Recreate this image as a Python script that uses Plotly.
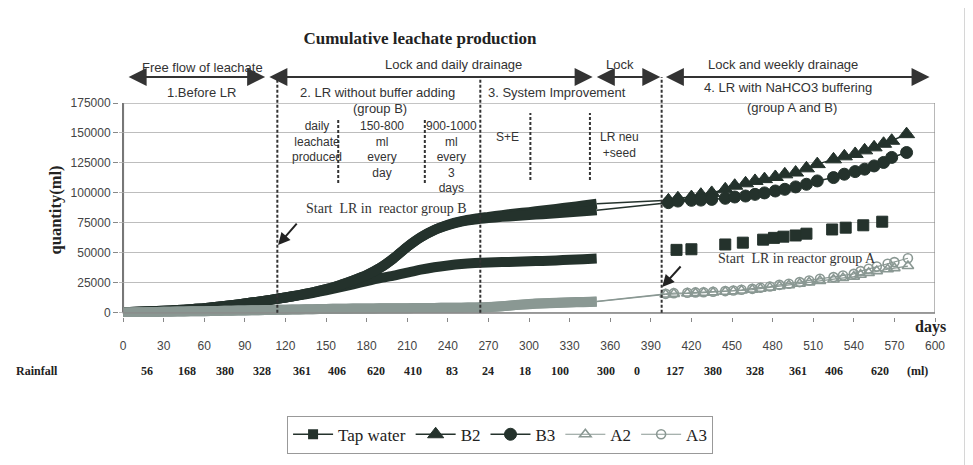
import plotly.graph_objects as go

# ---------------- data (values in ml) ----------------
early_days = [0, 10, 20, 30, 40, 50, 60, 70, 80, 90, 100, 110, 120, 130, 140, 150, 160, 170,
              180, 190, 200, 210, 220, 230, 240, 250, 260, 270, 280, 290, 300, 310, 320, 330, 340, 350]

tap_early = [500, 800, 1200, 1700, 2300, 3000, 3800, 5000, 6300, 7800, 9300, 11000, 12800, 14500,
             16500, 18800, 21200, 23800, 26500, 29000, 31000, 33500, 36000, 38000, 39500, 40700,
             41500, 42000, 42300, 42600, 43000, 43300, 43700, 44200, 44700, 45200]
b2_early = [500, 800, 1200, 1700, 2300, 3000, 3800, 5000, 6300, 7800, 9300, 11000, 12800, 14800,
            17000, 19800, 23000, 27000, 31500, 37500, 45500, 55000, 63000, 69000, 73500, 76500,
            78500, 80000, 81500, 82800, 84000, 85300, 86700, 88000, 89500, 91000]
b3_early = [500, 800, 1200, 1700, 2300, 3000, 3800, 5000, 6300, 7800, 9300, 11000, 12800, 14800,
            17000, 19800, 23000, 27000, 31500, 37500, 45500, 55000, 63000, 69000, 73000, 76000,
            77800, 79000, 80000, 80800, 81600, 82300, 83000, 83800, 84600, 85500]
a2_early = [200, 400, 600, 800, 1000, 1200, 1400, 1600, 1800, 2000, 2200, 2400, 2600, 2800, 3000,
            3200, 3400, 3500, 3600, 3700, 3800, 3900, 4000, 4100, 4200, 4300, 4400, 4700, 5400,
            6400, 7200, 7800, 8200, 8600, 8900, 9300]
a3_early = [200, 400, 600, 800, 1000, 1200, 1400, 1600, 1800, 2000, 2200, 2400, 2600, 2800, 3000,
            3200, 3400, 3500, 3600, 3700, 3800, 3900, 4000, 4100, 4200, 4300, 4400, 4800, 5500,
            6500, 7400, 8000, 8400, 8800, 9100, 9500]

tap_late_days = [409, 420, 445, 458, 473, 481, 488, 497, 505, 524, 534, 547, 561]
tap_late = [52500, 53000, 57000, 58500, 61000, 62500, 63500, 64500, 66000, 69500, 71000, 73000, 76000]

b_late_days = [403, 410, 420, 427, 435, 445, 452, 460, 467, 474, 482, 489, 497, 505, 513, 525,
               533, 541, 548, 555, 562, 568, 579]
b2_late = [93800, 95500, 96500, 98500, 100000, 103000, 106000, 108000, 110000, 111500, 113300,
           115500, 117000, 120500, 124000, 128000, 130500, 132500, 135500, 138000, 141000, 143500, 149000]
b3_late = [91900, 93200, 93800, 94000, 94600, 95500, 96600, 97400, 98800, 100000, 101600, 103000,
           105000, 107200, 110000, 112800, 115600, 117800, 119800, 122500, 125400, 129600, 133700]

a_late_days = [401, 407, 417, 423, 429, 436, 445, 451, 457, 465, 471, 478, 485, 492, 500, 507, 515,
               525, 532, 540, 545, 551, 557, 565, 570, 580]
a2_late = [15300, 15800, 16100, 16400, 16700, 17000, 17500, 18000, 18600, 19300, 20100, 21000, 22200,
           23000, 24200, 25400, 26600, 27800, 29000, 30200, 31800, 33300, 34800, 36300, 37300, 39000]
a3_late = [15800, 16400, 16700, 17000, 17200, 17500, 18100, 18600, 19200, 20000, 20900, 21900, 23300,
           24200, 25600, 27000, 28400, 29800, 31100, 32500, 34800, 36700, 38600, 40900, 42300, 45500]

rain_days = [18, 47, 75, 103, 132, 158, 187, 214, 243, 270, 297, 323, 357, 380, 408, 436, 467, 499, 525, 559]
rain_ml = ["56", "168", "380", "328", "361", "406", "620", "410", "83", "24",
           "18", "100", "300", "0", "127", "380", "328", "361", "406", "620"]

x_ticks = list(range(0, 601, 30))
y_ticks = list(range(0, 175001, 25000))

# phase boundaries (days)
phase_lines = [114, 264, 398]
sub_lines_b = [159, 223]
sub_lines_c = [301, 345]

# ---------------- styling ----------------
DARK = "#24322c"
GRAY = "#8a9893"
SERIF = "Liberation Serif, Times New Roman, serif"
SANS = "Liberation Sans, Arial, sans-serif"

fig = go.Figure()

# Tap water
fig.add_trace(go.Scatter(x=[None], y=[None], name="Tap water", mode="lines+markers",
                         line=dict(color=DARK, width=1.5),
                         marker=dict(symbol="square", size=10, color=DARK, opacity=1)))
fig.add_trace(go.Scatter(x=early_days, y=tap_early, mode="lines", showlegend=False,
                         line=dict(color=DARK, width=10, shape="spline", smoothing=0.6)))
fig.add_trace(go.Scatter(x=tap_late_days, y=tap_late, mode="markers", showlegend=False,
                         marker=dict(symbol="square", size=11, color=DARK, opacity=1,
                                     line=dict(width=1, color=DARK))))

# B2 / B3
for name, early, late, sym, msz in [("B2", b2_early, b2_late, "triangle-up", 14),
                                    ("B3", b3_early, b3_late, "circle", 12)]:
    fig.add_trace(go.Scatter(x=early_days, y=early, mode="lines", showlegend=False,
                             line=dict(color=DARK, width=10, shape="spline", smoothing=0.6)))
    fig.add_trace(go.Scatter(x=[early_days[-1], b_late_days[0]], y=[early[-1], late[0]],
                             mode="lines", showlegend=False, line=dict(color=DARK, width=1.5)))
    fig.add_trace(go.Scatter(x=b_late_days, y=late, name=name, mode="lines+markers",
                             line=dict(color=DARK, width=1.5),
                             marker=dict(symbol=sym, size=msz, color=DARK, opacity=1,
                                         line=dict(width=1, color=DARK))))

# A2 / A3
for name, early, late, sym, msz in [("A2", a2_early, a2_late, "triangle-up-open", 10),
                                    ("A3", a3_early, a3_late, "circle-open", 9)]:
    fig.add_trace(go.Scatter(x=early_days, y=early, mode="lines", showlegend=False,
                             line=dict(color=GRAY, width=10, shape="spline", smoothing=0.6)))
    fig.add_trace(go.Scatter(x=[early_days[-1], a_late_days[0]], y=[early[-1], late[0]],
                             mode="lines", showlegend=False, line=dict(color=GRAY, width=1.2)))
    fig.add_trace(go.Scatter(x=a_late_days, y=late, name=name, mode="lines+markers",
                             line=dict(color=GRAY, width=1.2),
                             marker=dict(symbol=sym, size=msz, color=GRAY, opacity=1,
                                         line=dict(width=1.6, color=GRAY))))

shapes = []
# plot box and axes
shapes.append(dict(type="rect", xref="x", yref="y", x0=0, x1=600, y0=0, y1=175000,
                   line=dict(color="#8a8a8a", width=1.2), layer="above"))
shapes.append(dict(type="line", xref="x", yref="y", x0=0, x1=0, y0=0, y1=175000,
                   line=dict(color="#555", width=2), layer="below"))
shapes.append(dict(type="line", xref="x", yref="y", x0=0, x1=600, y0=0, y1=0,
                   line=dict(color="#666", width=1.5), layer="below"))
# outer frame
shapes.append(dict(type="rect", xref="paper", yref="paper", x0=-0.1397, x1=1.0368, y0=-0.72, y1=1.4486,
                   line=dict(color="#aaaaaa", width=1)))
# dashed phase lines
for d in phase_lines:
    shapes.append(dict(type="line", xref="x", yref="paper", x0=d, x1=d, y0=0.0196, y1=1.1215,
                       line=dict(color="#333", width=2, dash="3px,2px")))
for d in sub_lines_b:
    shapes.append(dict(type="line", xref="x", yref="paper", x0=d, x1=d, y0=0.626, y1=0.93,
                       line=dict(color="#333", width=2, dash="3px,2px")))
for d in sub_lines_c:
    shapes.append(dict(type="line", xref="x", yref="paper", x0=d, x1=d, y0=0.64, y1=0.953,
                       line=dict(color="#333", width=2, dash="3px,2px")))

ann = []
# top double arrows
for a, b in [(3, 105), (107, 347), (349, 397), (400, 596)]:
    ann.append(dict(x=b, y=1.1215, xref="x", yref="paper", ax=a, ay=0, axref="x", ayref="pixel",
                    text="", showarrow=True, arrowside="end+start", arrowhead=2, arrowsize=1.8,
                    arrowwidth=2, arrowcolor="#333", standoff=0, startstandoff=0))


def label(text, x, y, size=13, font=SANS, color="#333", xref="x", yref="paper",
          yanchor="middle", bold=False, xanchor="center"):
    if bold:
        text = "<b>" + text + "</b>"
    ann.append(dict(x=x, y=y, xref=xref, yref=yref, text=text, showarrow=False,
                    xanchor=xanchor, yanchor=yanchor, font=dict(family=font, size=size, color=color)))


label("Free flow of leachate", 59, 1.1636)
label("Lock and daily drainage", 244, 1.1776)
label("Lock", 367, 1.1776)
label("Lock and weekly drainage", 488, 1.1776)
label("1.Before LR", 58, 1.0514)
label("2. LR without buffer adding", 188, 1.0514)
label("(group B)", 190, 0.9766)
label("3. System Improvement", 321, 1.0514)
label("4. LR with NaHCO3 buffering", 491, 1.0701)
label("(group A and B)", 494, 0.9813)
label("daily<br>leachate<br>produced", 143, 0.935, size=12, yanchor="top")
label("150-800<br>ml<br>every<br>day", 191, 0.935, size=12, yanchor="top")
label("900-1000<br>ml<br>every<br>3<br>days", 243, 0.935, size=12, yanchor="top")
label("S+E", 284, 0.841, size=12)
label("LR neu<br>+seed", 367, 0.804, size=12)

# start LR annotations
label("Start  LR in  reactor group B", 195, 87400, size=14, font=SERIF, yref="y")
label("Start  LR in reactor group A", 498, 45700, size=14, font=SERIF, yref="y")
ann.append(dict(x=114.6, y=56500, ax=129.3, ay=75700, xref="x", yref="y", axref="x", ayref="y",
                text="", showarrow=True, arrowhead=2, arrowsize=1.2, arrowwidth=2, arrowcolor="#222"))
ann.append(dict(x=398.4, y=21500, ax=413, ay=39900, xref="x", yref="y", axref="x", ayref="y",
                text="", showarrow=True, arrowhead=2, arrowsize=1.2, arrowwidth=2, arrowcolor="#222"))

# days label and rainfall row
label("days", 596.4, -0.047, size=16, font=SERIF, color="#222", bold=True)
label("Rainfall", -0.1005, -0.252, size=12, font=SERIF, color="#222", bold=True, xref="paper")
for d, r in zip(rain_days, rain_ml):
    label(r, d, -0.252, size=12, font=SERIF, color="#222", bold=True)
label("(ml)", 587, -0.252, size=12, font=SERIF, color="#222", bold=True)

fig.update_layout(
    width=973, height=465,
    margin=dict(l=111, r=46, t=95, b=156),
    paper_bgcolor="white", plot_bgcolor="white",
    title=dict(text="<b>Cumulative leachate production</b>", x=0.4234, xanchor="center",
               y=0.9355, yanchor="middle", font=dict(family=SERIF, size=17, color="#222")),
    xaxis=dict(range=[-3, 600], tickmode="array", tickvals=x_ticks, showgrid=False, zeroline=False,
               showline=False, ticks="outside", ticklen=4, tickcolor="#888",
               tickfont=dict(family=SANS, size=12, color="#444"), ticklabelstandoff=14),
    yaxis=dict(range=[-3500, 175000], tickmode="array", tickvals=y_ticks,
               ticktext=[str(v) for v in y_ticks], showgrid=True, gridcolor="#bdbdbd", gridwidth=1,
               zeroline=False, showline=False, ticks="outside", ticklen=5, tickcolor="#888",
               tickfont=dict(family=SANS, size=12, color="#444"),
               title=dict(text="<b>quantity(ml)</b>", standoff=4,
                          font=dict(family=SERIF, size=16.5, color="#222"))),
    legend=dict(orientation="h", x=0.467, xanchor="center", y=-0.55, yanchor="middle",
                bordercolor="#999", borderwidth=1, bgcolor="white", itemwidth=40,
                font=dict(family=SERIF, size=17, color="#222")),
    shapes=shapes, annotations=ann, showlegend=True,
)

fig.write_html("out.html")
